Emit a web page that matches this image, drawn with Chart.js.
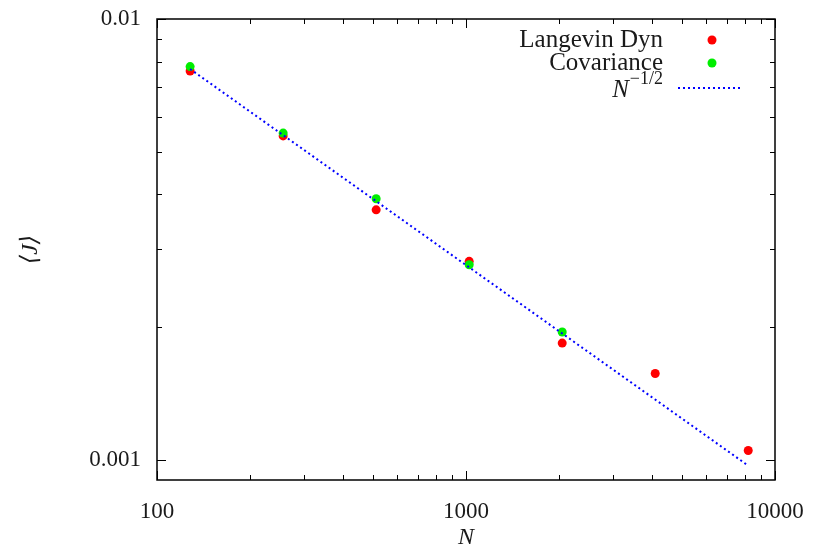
<!DOCTYPE html>
<html>
<head>
<meta charset="utf-8">
<script src="https://cdn.jsdelivr.net/npm/chart.js@4.4.1/dist/chart.umd.min.js"></script>
<style>
  html, body { margin: 0; padding: 0; background: #fff; }
</style>
</head>
<body>
<canvas id="chart" width="814" height="552"></canvas>
<script>
// system sizes N and measured <J>
const sizes = [128, 256, 512, 1024, 2048, 4096, 8192];
const langevin = [0.00762, 0.00543, 0.00369, 0.00282, 0.00184, 0.00157, 0.00105];
const covSizes = [128, 256, 512, 1024, 2048];
const covariance = [0.0078, 0.00551, 0.00391, 0.00277, 0.00195];
// reference N^-1/2 guide (straight on log-log, endpoints only)
const refN = [128, 8192];
const refJ = [0.0077, 0.00097];

const xTicks = [100, 1000, 10000];
const xTickLabels = ["100", "1000", "10000"];
const yTicks = [0.001, 0.01];
const yTickLabels = ["0.001", "0.01"];

const FONT = "'Liberation Serif', 'DejaVu Serif', serif";
const INK = "#1a1a1a";

function pairs(xs, ys) {
  return xs.map((x, i) => ({ x: x, y: ys[i] }));
}

function minorValues(majors) {
  const out = [];
  for (let i = 0; i < majors.length - 1; i++) {
    for (let k = 2; k <= 9; k++) out.push(majors[i] * k);
  }
  return out;
}

const frame = {
  id: "frame",
  afterDatasetsDraw(chart) {
    const ctx = chart.ctx;
    const a = chart.chartArea;
    const xs = chart.scales.x;
    const ys = chart.scales.y;
    ctx.save();
    ctx.strokeStyle = "#000";
    ctx.lineWidth = 1.5;
    ctx.strokeRect(a.left, a.top, a.right - a.left, a.bottom - a.top);

    ctx.lineWidth = 1;
    const tick = (len, vals, scale, horiz) => {
      vals.forEach((v) => {
        const p = Math.round(scale.getPixelForValue(v)) + 0.5;
        ctx.beginPath();
        if (horiz) {
          ctx.moveTo(p, a.bottom); ctx.lineTo(p, a.bottom - len);
          ctx.moveTo(p, a.top); ctx.lineTo(p, a.top + len);
        } else {
          ctx.moveTo(a.left, p); ctx.lineTo(a.left + len, p);
          ctx.moveTo(a.right, p); ctx.lineTo(a.right - len, p);
        }
        ctx.stroke();
      });
    };
    tick(9, xTicks, xs, true);
    tick(5, minorValues(xTicks), xs, true);
    tick(9, yTicks, ys, false);
    tick(5, minorValues(yTicks), ys, false);
    ctx.restore();
  },
  afterDraw(chart) {
    // key, top right, text right-aligned with sample on its right
    const ctx = chart.ctx;
    const textRight = 663;
    const sampleX = 712;
    const rowY = [40, 63, 88];
    ctx.save();
    ctx.textBaseline = "middle";
    ctx.textAlign = "right";
    chart.data.datasets.forEach((ds, i) => {
      const y = rowY[i];
      if (i < 2) {
        ctx.font = "25px " + FONT;
        ctx.fillStyle = INK;
        ctx.fillText(ds.label, textRight, y);
        ctx.fillStyle = ds.backgroundColor;
        ctx.beginPath();
        ctx.arc(sampleX, y, 4.5, 0, Math.PI * 2);
        ctx.fill();
      } else {
        ctx.fillStyle = INK;
        ctx.font = "18px " + FONT;
        const sup = "\u22121/2";
        const supW = ctx.measureText(sup).width;
        ctx.fillText(sup, textRight, y - 9);
        ctx.font = "italic 25px " + FONT;
        ctx.fillText("N", textRight - supW - 1, y + 2);
        ctx.strokeStyle = ds.borderColor;
        ctx.lineWidth = 2;
        ctx.setLineDash(ds.borderDash);
        ctx.beginPath();
        ctx.moveTo(678, y);
        ctx.lineTo(743, y);
        ctx.stroke();
      }
    });
    ctx.restore();
  }
};

const chart = new Chart(document.getElementById("chart"), {
  type: "scatter",
  data: {
    datasets: [
      {
        label: "Langevin Dyn",
        data: pairs(sizes, langevin),
        backgroundColor: "#ff0000",
        borderWidth: 0,
        pointRadius: 4.5,
        order: 3,
      },
      {
        label: "Covariance",
        data: pairs(covSizes, covariance),
        backgroundColor: "#00ee00",
        borderWidth: 0,
        pointRadius: 4.5,
        order: 2,
      },
      {
        label: "N^-1/2",
        data: pairs(refN, refJ),
        showLine: true,
        borderColor: "#0000ff",
        backgroundColor: "#0000ff",
        borderWidth: 2,
        borderDash: [2, 3],
        pointRadius: 0,
        order: 1,
      },
    ],
  },
  options: {
    responsive: false,
    animation: false,
    layout: { padding: { top: 19, right: 39, left: 0, bottom: 0 } },
    plugins: {
      legend: { display: false },
      tooltip: { enabled: false },
    },
    scales: {
      x: {
        type: "logarithmic",
        min: 100,
        max: 10000,
        afterBuildTicks: (scale) => {
          scale.ticks = xTicks.map((v) => ({ value: v }));
        },
        afterFit: (scale) => {
          scale.height = 72;
          scale.paddingLeft = 0;
          scale.paddingRight = 0;
        },
        ticks: {
          autoSkip: false,
          maxRotation: 0,
          padding: 18,
          color: INK,
          font: { family: FONT, size: 23 },
          callback: (v) => xTickLabels[xTicks.indexOf(v)],
        },
        grid: { display: false, drawTicks: false },
        border: { display: false },
        title: {
          display: true,
          text: "N",
          color: INK,
          padding: 0,
          font: { family: FONT, size: 24, style: "italic" },
        },
      },
      y: {
        type: "logarithmic",
        min: 0.0009,
        max: 0.01,
        afterBuildTicks: (scale) => {
          scale.ticks = yTicks.map((v) => ({ value: v }));
        },
        afterFit: (scale) => {
          scale.width = 157;
          scale.paddingTop = 0;
          scale.paddingBottom = 0;
        },
        ticks: {
          autoSkip: false,
          padding: 16,
          color: INK,
          font: { family: FONT, size: 23 },
          callback: (v) => yTickLabels[yTicks.indexOf(v)],
        },
        grid: { display: false, drawTicks: false },
        border: { display: false },
        title: {
          display: true,
          text: "\u27E8J\u27E9",
          color: INK,
          padding: { top: 16, bottom: 0 },
          font: { family: FONT, size: 24, style: "italic" },
        },
      },
    },
  },
  plugins: [frame],
});
</script>
</body>
</html>
